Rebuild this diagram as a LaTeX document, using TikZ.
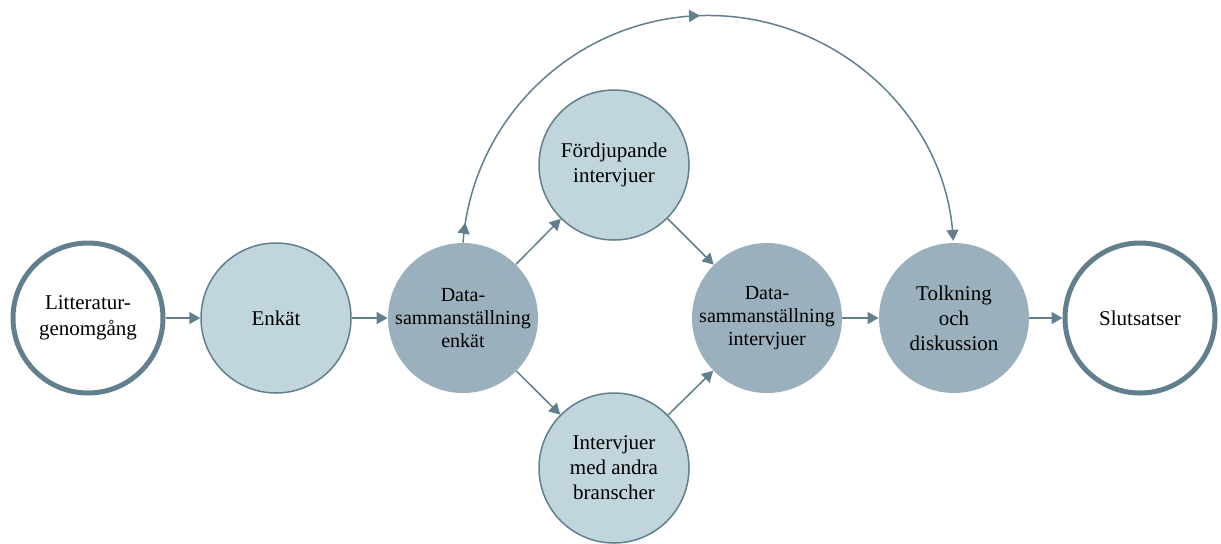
\documentclass[tikz,border=0pt]{standalone}
\usepackage{fontspec}
\setmainfont{Liberation Serif}
\usetikzlibrary{arrows.meta,decorations.markings}
\definecolor{edgegray}{HTML}{617F8C}
\definecolor{lightblue}{HTML}{C1D5DD}
\definecolor{darkblue}{HTML}{9AB0BC}

\begin{document}
\begin{tikzpicture}[x=0.5pt, y=-0.5pt,
	lightstep/.style={circle, draw=edgegray, line width=0.75pt, fill=lightblue, minimum size=75pt, inner sep=0pt, align=center, font=\fontsize{10.5}{12.5}\selectfont},
	darkstep/.style={circle, fill=darkblue, minimum size=75pt, inner sep=0pt, align=center, font=\fontsize{10}{11.5}\selectfont},
	endstep/.style={circle, draw=edgegray, line width=2.5pt, fill=white, minimum size=75pt, inner sep=0pt, align=center, font=\fontsize{10.5}{13}\selectfont},
	flow/.style={draw=edgegray, line width=0.75pt, -{Triangle[length=5.5pt,width=6pt]}}]
			%%%%% START %%%%%
			\useasboundingbox (0, 0) rectangle (1221, 543);
			
			\node[endstep] (lit) at (88, 318) {Litteratur-\\genomgång};
			\node[lightstep] (enkat) at (276, 318) {Enkät};
			\node[darkstep] (data1) at (463, 318) {Data-\\sammanställning\\enkät};
			
			\node[lightstep] (fordj) at (614, 165) {Fördjupande\\intervjuer};
			\node[lightstep] (andra) at (614, 468) {Intervjuer\\med andra\\branscher};
			
			\node[darkstep] (data2) at (767, 318) {Data-\\sammanställning\\intervjuer};
			\node[darkstep, font=\fontsize{10.5}{12.5}\selectfont] (tolk) at (954, 318) {Tolkning\\och\\diskussion};
			\node[endstep] (slut) at (1140, 318) {Slutsatser};
			
			\draw[flow] (lit) -- (enkat);
			\draw[flow] (enkat) -- (data1);
			\draw[flow] (data1) -- (fordj);
			\draw[flow] (data1) -- (andra);
			\draw[flow] (fordj) -- (data2);
			\draw[flow] (andra) -- (data2);
			\draw[flow] (data2) -- (tolk);
			\draw[flow] (tolk) -- (slut);
			
			\draw[flow, decoration={markings,
				mark=at position 10pt with {\arrow{Triangle[length=5.5pt,width=6pt]}},
				mark=at position 0.49 with {\arrow{Triangle[length=5.5pt,width=6pt]}}},
				postaction={decorate}]
				(data1.north) arc[start angle=184.4, end angle=355.2, radius=246];
			
			%%%%% END %%%%%
\end{tikzpicture}
\end{document}
